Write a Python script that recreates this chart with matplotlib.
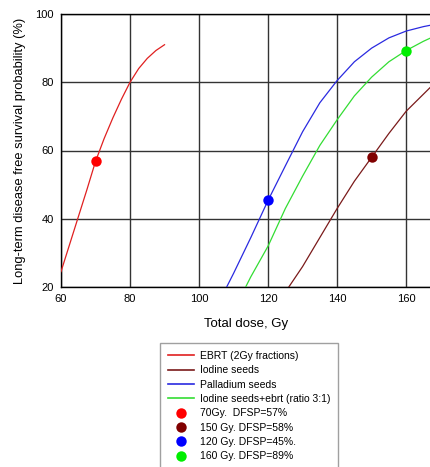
import matplotlib
matplotlib.use("Agg")
import matplotlib.pyplot as plt
from matplotlib.lines import Line2D

plt.rcParams["font.family"] = ["Liberation Sans", "DejaVu Sans"]

# EBRT (2Gy fractions)
ebrt_dose = [60, 62.5, 65, 67.5, 70, 72.5, 75, 77.5, 80, 82.5, 85, 87.5, 90]
ebrt_surv = [24.5, 32.5, 40.5, 48.5, 56.8, 63.5, 69.5, 75.0, 80.0, 84.0, 87.0, 89.3, 91.0]
# Iodine seeds
iod_dose = [126, 130, 135, 140, 145, 150, 155, 160, 165, 168]
iod_surv = [20.0, 26.0, 34.5, 43.0, 51.0, 58.0, 65.0, 71.5, 76.5, 79.5]
# Palladium seeds
pal_dose = [108, 110, 115, 120, 125, 130, 135, 140, 145, 150, 155, 160, 165, 168]
pal_surv = [20.0, 24.0, 34.5, 45.4, 55.5, 65.5, 74.0, 80.5, 86.0, 90.0, 93.0, 95.0, 96.3, 96.9]
# Iodine seeds + ebrt (ratio 3:1)
mix_dose = [113.5, 115, 120, 125, 130, 135, 140, 145, 150, 155, 160, 165, 168]
mix_surv = [20.0, 23.0, 32.0, 43.0, 52.5, 61.5, 69.0, 76.0, 81.5, 86.0, 89.3, 92.0, 93.4]

pt_dose = [70, 150, 120, 160]
pt_surv = [57, 58, 45.4, 89.3]
pt_colors = ["#ff0000", "#800000", "#0000ff", "#00ee00"]
pt_labels = ["70Gy.  DFSP=57%", "150 Gy. DFSP=58%", "120 Gy. DFSP=45%.", "160 Gy. DFSP=89%"]

line_labels = ["EBRT (2Gy fractions)", "Iodine seeds", "Palladium seeds", "Iodine seeds+ebrt (ratio 3:1)"]
line_colors = ["#e02020", "#7a1a1a", "#2a2ae0", "#33dd33"]

fig = plt.figure(figsize=(4.31, 4.67), dpi=100)
ax = fig.add_axes([61/431, 1-287/467, 1-61/431, (287-14)/467])

series = [(ebrt_dose, ebrt_surv), (iod_dose, iod_surv), (pal_dose, pal_surv), (mix_dose, mix_surv)]
for (d, s), c in zip(series, line_colors):
    ax.plot(d, s, color=c, lw=0.9, zorder=3)
for d, s, c in zip(pt_dose, pt_surv, pt_colors):
    ax.plot([d], [s], "o", color=c, ms=7.5, zorder=4, markeredgewidth=0)

ax.set_xlim(60, 167.2)
ax.set_ylim(20, 100)
ax.set_xticks([60, 80, 100, 120, 140, 160])
ax.set_yticks([20, 40, 60, 80, 100])
ax.grid(True, color="#333333", lw=1.0)
ax.set_axisbelow(True)
ax.tick_params(length=0, labelsize=8, pad=5)
ax.spines["right"].set_visible(False)
for sp in ["left", "bottom", "top"]:
    ax.spines[sp].set_color("black")
    ax.spines[sp].set_linewidth(1.0)
ax.set_xlabel("Total dose, Gy", fontsize=9.5, labelpad=10)
ax.set_ylabel("Long-term disease free survival probability (%)", fontsize=9.3, labelpad=7)

handles = [Line2D([], [], color=c, lw=1.2) for c in line_colors]
handles += [Line2D([], [], marker="o", ls="none", color=c, ms=7.5, markeredgewidth=0) for c in pt_colors]
leg = fig.legend(handles, line_labels + pt_labels, loc="upper left",
                 bbox_to_anchor=(160/431, 1-343/467), fontsize=7.5, frameon=True,
                 fancybox=False, edgecolor="#888888", labelspacing=0.42,
                 handlelength=2.5, handletextpad=0.6, borderpad=0.75, borderaxespad=0)
leg.get_frame().set_linewidth(1.0)

fig.savefig("out.png", dpi=100)
